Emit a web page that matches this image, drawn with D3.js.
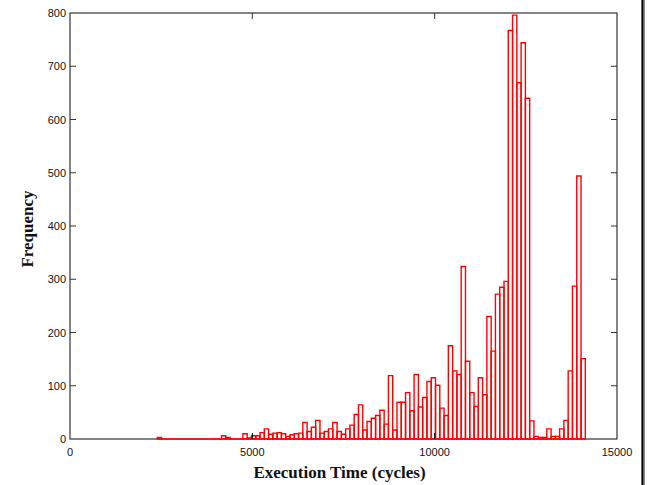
<!DOCTYPE html>
<html>
<head>
<meta charset="utf-8">
<script src="https://cdn.jsdelivr.net/npm/d3@7"></script>
<style>
	html, body { margin: 0; padding: 0; background: #fff; }
	svg { display: block; }
	.tick-label { font-family: "Liberation Sans", Arial, sans-serif; font-size: 11px; fill: #111; }
	.title { font-family: "Liberation Serif", "Times New Roman", serif; font-weight: bold; font-size: 17px; fill: #111; }
</style>
</head>
<body>
<script>
// histogram: 100 equal bins starting at binStart
const binStart = 2394;
const binWidth = 117.37;
const counts = [
	3, 0, 0, 0, 0, 0, 0, 0, 0, 0,
	0, 0, 0, 0, 0, 6, 3, 0, 0, 0,
	10, 2, 6, 6, 12, 19, 9, 11, 12, 10,
	5, 8, 10, 11, 31, 14, 22, 35, 11, 14,
	19, 31, 14, 9, 19, 26, 46, 64, 17, 33,
	39, 44, 54, 28, 119, 17, 69, 69, 87, 53,
	121, 60, 78, 108, 115, 101, 58, 44, 175, 128,
	121, 324, 146, 87, 61, 115, 83, 230, 165, 272,
	285, 296, 767, 796, 669, 744, 640, 34, 5, 3,
	3, 19, 5, 5, 19, 35, 128, 287, 494, 151
];
const xTicks = [0, 5000, 10000, 15000];
const yTicks = [0, 100, 200, 300, 400, 500, 600, 700, 800];
const xTitle = 'Execution Time (cycles)';
const yTitle = 'Frequency';

const width = 648, height = 485;
const margin = {left: 70, right: 31, top: 13, bottom: 46};

const svg = d3.select('body').append('svg')
	.attr('width', width)
	.attr('height', height);

const x = d3.scaleLinear().domain([0, 15000]).range([margin.left, width - margin.right]);
const y = d3.scaleLinear().domain([0, 800]).range([height - margin.bottom, margin.top]);

const bins = counts.map((c, i) => ({
	lo: binStart + i * binWidth,
	hi: binStart + (i + 1) * binWidth,
	count: c
}));

// axes box
const frame = '#333';
svg.append('rect')
	.attr('x', x(0))
	.attr('y', y(800))
	.attr('width', x(15000) - x(0))
	.attr('height', y(0) - y(800))
	.attr('fill', 'none')
	.attr('stroke', frame)
	.attr('stroke-width', 1.2);

// bars as outlined paths so empty bins still show as a flat line
svg.append('g')
	.selectAll('path')
	.data(bins)
	.join('path')
	.attr('d', d => `M${x(d.lo)},${y(0)}V${y(d.count)}H${x(d.hi)}V${y(0)}Z`)
	.attr('fill', 'none')
	.attr('stroke', '#ff0000')
	.attr('stroke-width', 1.4);

const tickLen = 6;
const xAxisG = svg.append('g');
xAxisG.selectAll('line.b')
	.data(xTicks.slice(1, -1))
	.join('line')
	.attr('x1', d => x(d)).attr('x2', d => x(d))
	.attr('y1', y(0)).attr('y2', y(0) - tickLen)
	.attr('stroke', '#000');
xAxisG.append('g').selectAll('line')
	.data(xTicks.slice(1, -1))
	.join('line')
	.attr('x1', d => x(d)).attr('x2', d => x(d))
	.attr('y1', y(800)).attr('y2', y(800) + tickLen)
	.attr('stroke', frame);
xAxisG.selectAll('text')
	.data(xTicks)
	.join('text')
	.attr('class', 'tick-label')
	.attr('x', d => x(d))
	.attr('y', y(0) + 17)
	.attr('text-anchor', 'middle')
	.text(d => d);

const yAxisG = svg.append('g');
yAxisG.selectAll('line')
	.data(yTicks.slice(1, -1))
	.join('line')
	.attr('x1', x(0)).attr('x2', x(0) + tickLen)
	.attr('y1', d => y(d)).attr('y2', d => y(d))
	.attr('stroke', frame);
yAxisG.append('g').selectAll('line')
	.data(yTicks.slice(1, -1))
	.join('line')
	.attr('x1', x(15000)).attr('x2', x(15000) - tickLen)
	.attr('y1', d => y(d)).attr('y2', d => y(d))
	.attr('stroke', frame);
yAxisG.selectAll('text')
	.data(yTicks)
	.join('text')
	.attr('class', 'tick-label')
	.attr('x', x(0) - 4)
	.attr('y', d => y(d) + 4)
	.attr('text-anchor', 'end')
	.text(d => d);

// titles
svg.append('text')
	.attr('class', 'title')
	.attr('x', (x(0) + x(15000)) / 2 - 4)
	.attr('y', 478)
	.attr('text-anchor', 'middle')
	.text(xTitle);

svg.append('text')
	.attr('class', 'title')
	.attr('transform', `translate(33,${(y(0) + y(800)) / 2 + 3}) rotate(-90)`)
	.attr('text-anchor', 'middle')
	.text(yTitle);

// window edge on the right
svg.append('rect')
	.attr('x', 641)
	.attr('y', 0)
	.attr('width', 4)
	.attr('height', height)
	.attr('fill', '#888');
svg.append('line')
	.attr('x1', 642.5).attr('x2', 642.5)
	.attr('y1', 0).attr('y2', height)
	.attr('stroke', '#000')
	.attr('stroke-width', 1.5);
</script>
</body>
</html>
